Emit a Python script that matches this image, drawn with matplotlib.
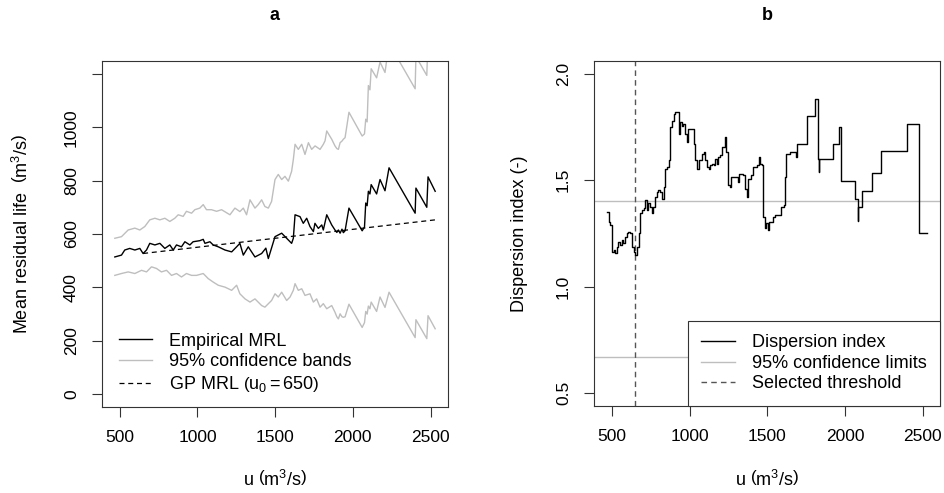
import matplotlib
matplotlib.use('Agg')
import matplotlib.pyplot as plt
from matplotlib.lines import Line2D

plt.rcParams['font.family'] = ['Liberation Sans', 'DejaVu Sans']
plt.rcParams['mathtext.fontset'] = 'custom'
plt.rcParams['mathtext.rm'] = 'Liberation Sans'
plt.rcParams['mathtext.it'] = 'Liberation Sans:italic'
plt.rcParams['mathtext.bf'] = 'Liberation Sans:bold'

# ---------------- Panel a: mean residual life ----------------
mrl_u = [468, 511, 532, 564, 597, 629, 650, 672, 693, 726, 758, 790, 822, 844, 865, 897, 919, 951,
         972, 1015, 1037, 1048, 1080, 1101, 1134, 1177, 1220, 1252, 1273, 1295, 1327, 1370, 1413,
         1440, 1456, 1466, 1499, 1542, 1574, 1606, 1617, 1628, 1660, 1681, 1703, 1724, 1746, 1756,
         1778, 1800, 1810, 1832, 1864,
         1885, 1897, 1907, 1918, 1930, 1939, 1950, 1975, 2060, 2075, 2083, 2092, 2100, 2110, 2118,
         2153, 2175, 2207, 2233, 2401, 2406, 2476, 2484, 2530]
mrl_v = [514, 521, 540, 546, 540, 546, 527, 540, 565, 559, 565, 546, 559, 540, 559, 552, 571, 559,
         571, 575, 580, 565, 571, 559, 552, 540, 533, 552, 565, 521, 552, 514, 527,
         547, 508, 527, 590, 603, 584, 565, 584, 672, 665, 640, 659, 628, 609, 640,
         621, 634, 615, 672, 634,
         615, 606, 615, 603, 618, 605, 612, 697, 612, 626, 716, 706, 760, 750, 785,
         750, 804, 762, 848, 678, 772, 700, 814, 760]

upper_u = [468, 511, 554, 597, 629, 661, 693, 726, 758, 790, 822, 854, 876, 908, 929, 962, 983, 1015,
           1037, 1058, 1090, 1123, 1155, 1209, 1241, 1273, 1295, 1316, 1338, 1370, 1391, 1413, 1434,
           1456, 1477, 1499, 1520, 1542, 1563, 1585, 1606, 1617, 1628, 1649, 1671, 1692, 1714, 1735,
           1757, 1789, 1810, 1821, 1832, 1864,
           1885, 1897, 1907, 1918, 1930, 1939, 1950, 1975, 2060, 2075, 2083, 2092, 2100, 2110, 2118,
           2153, 2175, 2207, 2233, 2401, 2406, 2476, 2484, 2530]
upper_v = [584, 590, 615, 622, 615, 628, 653, 659, 653, 659, 647, 659, 672, 666, 685, 678, 691, 697,
           710, 691, 691, 685, 691, 672, 697, 684, 697, 672, 728, 697, 710, 728, 703,
           697, 722, 804, 823, 804, 816, 798, 835, 879, 936, 917, 936, 898, 942, 917,
           930, 917, 936, 949, 986, 955,
           930, 920, 917, 942, 948, 955, 961, 1056, 967, 975, 1030, 1020, 1156, 1140, 1219,
           1185, 1244, 1205, 1314, 1144, 1265, 1194, 1334, 1280]

lower_u = [468, 511, 554, 597, 640, 672, 704, 736, 768, 801, 833, 865, 897, 929, 962, 994, 1037, 1069,
           1101, 1134, 1177, 1220, 1252, 1273, 1306, 1338, 1370, 1413, 1434, 1477, 1499, 1520, 1542,
           1574, 1596, 1617, 1628, 1649, 1671, 1692, 1724, 1746, 1767, 1789, 1810, 1832, 1864,
           1885, 1897, 1907, 1918, 1930, 1939, 1950, 1975, 2060, 2075, 2083, 2092, 2100, 2110, 2118,
           2153, 2175, 2207, 2233, 2401, 2406, 2476, 2484, 2530]
lower_v = [445, 452, 458, 452, 464, 458, 477, 471, 458, 464, 445, 452, 439, 452, 445, 445, 452, 433,
           420, 408, 401, 389, 408, 376, 357, 345, 357, 332, 326, 351, 376, 364, 382,
           351, 364, 389, 414, 389, 395, 370, 376, 345, 357, 326, 339, 320, 332,
           307, 290, 282, 301, 290, 288, 290, 337, 250, 268, 310, 300, 330, 320, 345,
           310, 364, 325, 382, 212, 279, 208, 294, 245]

gp_u = [650, 2530]
gp_v = [527, 653]
u0 = 650

a_yticks = [0, 200, 400, 600, 800, 1000, 1200]
a_yticklabels = ['0', '200', '400', '600', '800', '1000', '']
xticks = [500, 1000, 1500, 2000, 2500]

# ---------------- Panel b: dispersion index ----------------
disp_u = [468, 479, 489, 500, 511, 521, 532, 543, 554, 564,
          575, 586, 597, 607, 618, 629, 640, 650, 661, 672,
          682, 693, 704, 715, 725, 736, 747, 757, 768, 779,
          790, 800, 811, 822, 833, 843, 854, 865, 875, 886,
          897, 908, 918, 929, 940, 950, 961, 972, 983, 993,
          1015, 1026, 1036, 1047, 1058, 1079, 1090, 1101, 1111, 1122,
          1133, 1144, 1154, 1165, 1176, 1186, 1197, 1208, 1225, 1236,
          1246, 1257, 1268, 1311, 1321, 1343, 1354, 1371, 1379, 1396,
          1407, 1435, 1444, 1450, 1465, 1472, 1482, 1493, 1504, 1514,
          1536, 1547, 1590, 1605, 1611, 1622, 1643, 1686, 1693, 1753,
          1808, 1828, 1831, 1834, 1922, 1960, 1972, 2064, 2081, 2085,
          2111, 2171, 2228, 2400, 2475, 2528]
disp_v = [1.352, 1.305, 1.290, 1.165, 1.173, 1.157, 1.188, 1.212, 1.196, 1.220,
          1.204, 1.235, 1.251, 1.259, 1.251, 1.188, 1.165, 1.150, 1.188, 1.251,
          1.344, 1.360, 1.368, 1.407, 1.360, 1.391, 1.375, 1.344, 1.375, 1.422,
          1.446, 1.453, 1.446, 1.414, 1.469, 1.555, 1.562, 1.593, 1.749, 1.780,
          1.812, 1.819, 1.819, 1.718, 1.773, 1.757, 1.765, 1.718, 1.679, 1.743,
          1.743, 1.671, 1.593, 1.555, 1.593, 1.625, 1.632, 1.593, 1.562, 1.555,
          1.570, 1.578, 1.570, 1.601, 1.578, 1.609, 1.617, 1.656, 1.703, 1.632,
          1.477, 1.469, 1.516, 1.492, 1.531, 1.523, 1.461, 1.422, 1.508, 1.523,
          1.562, 1.570, 1.609, 1.578, 1.570, 1.329, 1.274, 1.298, 1.266, 1.305,
          1.329, 1.336, 1.375, 1.383, 1.516, 1.625, 1.632, 1.609, 1.671, 1.804,
          1.880, 1.601, 1.540, 1.601, 1.671, 1.749, 1.497, 1.411, 1.310, 1.375,
          1.450, 1.536, 1.637, 1.765, 1.251, 1.251]
conf_limits = [0.668, 1.402]
selected_threshold = 650

b_yticks = [0.5, 1.0, 1.5, 2.0]
b_yticklabels = ['0.5', '1.0', '1.5', '2.0']

GRAY = '#bebebe'
DARK = '#333333'
FS = 13

fig = plt.figure(figsize=(9.45, 4.93), dpi=100)
W, H = 945.0, 493.0
axa = fig.add_axes([102 / W, 1 - 407 / H, 346 / W, 346 / H])
axb = fig.add_axes([594 / W, 1 - 406 / H, 346 / W, 345 / H])


def r_range(vmin, vmax):
    r = vmax - vmin
    return vmin - 0.04 * r, vmax + 0.04 * r


def style_axes(ax):
    for s in ax.spines.values():
        s.set_color(DARK)
        s.set_linewidth(0.8)
    ax.tick_params(direction='out', length=7.5, width=0.8, color=DARK,
                   labelsize=12.5, pad=9)
    ax.tick_params(axis='y', labelrotation=90)
    for lab in ax.get_yticklabels():
        lab.set_va('center')


# ----- panel a -----
axa.plot(upper_u, upper_v, color=GRAY, lw=1.0, label='95% confidence bands')
axa.plot(lower_u, lower_v, color=GRAY, lw=1.0)
axa.plot(mrl_u, mrl_v, color='black', lw=1.0, label='Empirical MRL')
axa.plot(gp_u, gp_v, color='black', lw=0.9, dashes=(4, 3),
         label=r'GP MRL $\left(\mathrm{u}_0 = %d\right)$' % u0)
axa.set_xlim(*r_range(min(mrl_u), max(mrl_u)))
axa.set_ylim(*r_range(0, 1200))
axa.set_xticks(xticks)
axa.set_yticks(a_yticks)
axa.set_yticklabels(a_yticklabels)
style_axes(axa)
h, l = axa.get_legend_handles_labels()
order = [1, 0, 2]
axa.legend([h[i] for i in order], [l[i] for i in order], loc='lower left',
           bbox_to_anchor=(0.028, 0.017), frameon=False, fontsize=FS,
           handlelength=1.85, handletextpad=0.9, labelspacing=0.2,
           borderpad=0.4, borderaxespad=0)
axa.set_xlabel(r'u $\left(\mathrm{m}^3/\mathrm{s}\right)$', fontsize=FS, va='center')
axa.xaxis.set_label_coords(0.5, -0.211)
axa.set_ylabel(r'Mean residual life  $\left(\mathrm{m}^3/\mathrm{s}\right)$', fontsize=FS, va='center')
axa.yaxis.set_label_coords(-0.231, 0.5)

# ----- panel b -----
for c in conf_limits:
    axb.axhline(c, color=GRAY, lw=1.0, zorder=1)
axb.axvline(selected_threshold, color='#555555', lw=1.0, dashes=(4, 3), zorder=2)
axb.plot(disp_u, disp_v, color='black', lw=1.0, drawstyle='steps-post', zorder=3)
axb.set_xlim(*r_range(min(disp_u), max(disp_u)))
axb.set_ylim(*r_range(0.5, 2.0))
axb.set_xticks(xticks)
axb.set_yticks(b_yticks)
axb.set_yticklabels(b_yticklabels)
style_axes(axb)
hb = [Line2D([], [], color='black', lw=1.0),
      Line2D([], [], color=GRAY, lw=1.0),
      Line2D([], [], color='#555555', lw=1.0, dashes=(4, 3))]
lb = ['Dispersion index', '95% confidence limits', 'Selected threshold']
leg = axb.legend(hb, lb, loc='lower right', fontsize=FS, fancybox=False,
                 handlelength=1.9, handletextpad=0.9, labelspacing=0.2,
                 borderpad=0.75, borderaxespad=0, framealpha=1)
leg.get_frame().set_edgecolor(DARK)
leg.get_frame().set_linewidth(0.8)
leg.set_zorder(5)
axb.set_xlabel(r'u $\left(\mathrm{m}^3/\mathrm{s}\right)$', fontsize=FS, va='center')
axb.xaxis.set_label_coords(0.5, -0.214)
axb.set_ylabel('Dispersion index (-)', fontsize=FS, va='center')
axb.yaxis.set_label_coords(-0.214, 0.5)

fig.text(275 / W, 1 - 15 / H, 'a', fontsize=FS, fontweight='bold', ha='center', va='center')
fig.text(767 / W, 1 - 15 / H, 'b', fontsize=FS, fontweight='bold', ha='center', va='center')

fig.savefig('out.png', dpi=100)
